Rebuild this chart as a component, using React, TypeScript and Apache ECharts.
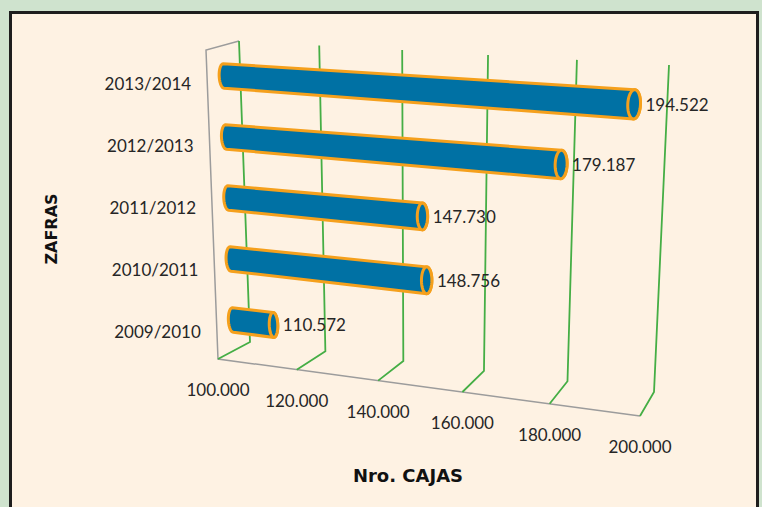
import React, { useEffect, useRef } from "react";
import * as echarts from "echarts";

// ---- data ----
const categories = ["2009/2010", "2010/2011", "2011/2012", "2012/2013", "2013/2014"];
const cajas = [110572, 148756, 147730, 179187, 194522];
const xTicks = [100000, 120000, 140000, 160000, 180000, 200000];
const xMin = 100000;
const xMax = 200000;
const xStep = 20000;
const yTitle = "ZAFRAS";
const xTitle = "Nro. CAJAS";

// ---- layout of the perspective box (pixels) ----
type P = [number, number];
const BACK = { b0: [250, 342] as P, b1: [654, 392] as P, t0: [239, 41] as P, t1: [669, 65] as P };
const FRONT = { b0: [218, 359] as P, b1: [640, 416] as P, t0: [206, 50] as P, t1: [654, 81] as P };
const PERSP = 1.09;

const lerp = (a: P, b: P, t: number): P => [a[0] + (b[0] - a[0]) * t, a[1] + (b[1] - a[1]) * t];
const face = (f: typeof BACK, u: number, v: number): P => lerp(lerp(f.b0, f.b1, u), lerp(f.t0, f.t1, u), v);
const project = (u: number, v: number, w: number): P => {
  const g = u / (PERSP - (PERSP - 1) * u);
  return lerp(face(FRONT, g, v), face(BACK, g, v), w);
};

const fmt = (v: number) => String(Math.round(v)).replace(/\B(?=(\d{3})+(?!\d))/g, ".");

const ell = (c: P, a: P, rx: number, from: number, to: number, n = 24): P[] => {
  const pts: P[] = [];
  for (let k = 0; k <= n; k++) {
    const t = from + ((to - from) * k) / n;
    pts.push([c[0] + a[0] * Math.cos(t) + rx * Math.sin(t), c[1] + a[1] * Math.cos(t)]);
  }
  return pts;
};

const NUM_FONT = "17px Lato";
const TXT = "#262626";
const BLUE = "#0071A4";
const ORANGE = "#F5A01C";
const GREEN = "#45AE45";

export default function App() {
  const ref = useRef<HTMLDivElement>(null);
  useEffect(() => {
    document.body.style.margin = "0";
    const chart = echarts.init(ref.current!, null, { renderer: "svg" });
    const option: any = {
      animation: false,
      backgroundColor: "#CFE3CE",
      grid: { left: 240, top: 41, width: 420, height: 320, show: false },
      xAxis: { type: "value", min: xMin, max: xMax, interval: xStep, show: false },
      yAxis: { type: "category", data: categories, show: false },
      graphic: [
        {
          type: "rect",
          z: -10,
          shape: { x: 10.5, y: 12.5, width: 747, height: 520 },
          style: { fill: "#FEF2E3", stroke: "#1E1E1E", lineWidth: 3 },
        },
        {
          type: "text",
          x: 51,
          y: 229,
          rotation: Math.PI / 2,
          style: { text: yTitle, font: "bold 16px 'DejaVu Sans'", fill: "#111", align: "center", verticalAlign: "middle" },
        },
        {
          type: "text",
          x: 408,
          y: 475,
          style: { text: xTitle, font: "bold 18px 'DejaVu Sans'", fill: "#111", align: "center", verticalAlign: "middle" },
        },
      ],
      series: [
        {
          type: "custom",
          name: "frame",
          coordinateSystem: "cartesian2d",
          data: [[xMin, xMax]],
          encode: { x: [0, 1] },
          silent: true,
          renderItem: (params: any, api: any) => {
            const cs = params.coordSys;
            const a = api.coord([api.value(0), 0]);
            const b = api.coord([api.value(1), 0]);
            const u0 = (a[0] - cs.x) / cs.width;
            const u1 = (b[0] - cs.x) / cs.width;
            return {
              type: "polyline",
              shape: { points: [project(u0, 1, 1), project(u0, 1, 0), project(u0, 0, 0), project(u1, 0, 0)] },
              style: { stroke: "#9C9C9C", lineWidth: 1.5, fill: "none" },
            };
          },
        },
        {
          type: "custom",
          name: "grid",
          coordinateSystem: "cartesian2d",
          data: xTicks.map((t) => [t, 0]),
          encode: { x: 0, y: 1 },
          silent: true,
          renderItem: (params: any, api: any) => {
            const cs = params.coordSys;
            const val = api.value(0);
            const p = api.coord([val, 0]);
            const u = (p[0] - cs.x) / cs.width;
            const f = project(u, 0, 0);
            return {
              type: "group",
              children: [
                {
                  type: "polyline",
                  shape: { points: [f, project(u, 0, 1), project(u, 1, 1)] },
                  style: { stroke: GREEN, lineWidth: 1.8, fill: "none" },
                },
                {
                  type: "text",
                  x: f[0],
                  y: f[1] + 30.5,
                  style: { text: fmt(val), font: NUM_FONT, fill: TXT, align: "center", verticalAlign: "middle" },
                },
              ],
            };
          },
        },
        {
          type: "custom",
          name: "Nro. CAJAS",
          coordinateSystem: "cartesian2d",
          data: cajas.map((v, i) => [v, i]),
          encode: { x: 0, y: 1 },
          renderItem: (params: any, api: any) => {
            const cs = params.coordSys;
            const val = api.value(0);
            const idx = api.value(1);
            const pEnd = api.coord([val, idx]);
            const pStart = api.coord([xMin, idx]);
            const bandH = api.size([0, 1])[1];
            const u0 = (pStart[0] - cs.x) / cs.width;
            const u1 = (pEnd[0] - cs.x) / cs.width;
            const v = 1 - (pEnd[1] - cs.y) / cs.height;
            const rv = (bandH / cs.height) * 0.2;
            const rvEnd = rv * (1 + 0.12 * u1);
            const TL = project(u0, v + rv, 0.5);
            const BL = project(u0, v - rv, 0.5);
            const TR = project(u1, v + rvEnd, 0.5);
            const BR = project(u1, v - rvEnd, 0.5);
            const CL: P = [(TL[0] + BL[0]) / 2, (TL[1] + BL[1]) / 2];
            const CR: P = [(TR[0] + BR[0]) / 2, (TR[1] + BR[1]) / 2];
            const aL: P = [TL[0] - CL[0], TL[1] - CL[1]];
            const aR: P = [TR[0] - CR[0], TR[1] - CR[1]];
            const rxL = 4.5;
            const rxR = 4 + 2.5 * u1;
            const body = [...ell(CR, aR, rxR, 0, Math.PI), ...ell(CL, aL, rxL, Math.PI, 2 * Math.PI)];
            const end = ell(CR, aR, rxR, 0, 2 * Math.PI, 40);
            const lab = project(0, v, 0);
            return {
              type: "group",
              children: [
                {
                  type: "polygon",
                  shape: { points: body },
                  style: { fill: BLUE, stroke: ORANGE, lineWidth: 3, lineJoin: "round" },
                },
                {
                  type: "polygon",
                  shape: { points: end },
                  style: { fill: BLUE, stroke: ORANGE, lineWidth: 3 },
                },
                {
                  type: "text",
                  x: CR[0] + rxR + 5,
                  y: CR[1],
                  style: { text: fmt(val), font: NUM_FONT, fill: TXT, align: "left", verticalAlign: "middle" },
                },
                {
                  type: "text",
                  x: lab[0] - 16,
                  y: lab[1] + 3,
                  style: { text: categories[idx], font: NUM_FONT, fill: TXT, align: "right", verticalAlign: "middle" },
                },
              ],
            };
          },
        },
      ],
    };
    chart.setOption(option);
    return () => chart.dispose();
  }, []);
  return <div ref={ref} style={{ width: 762, height: 507 }} />;
}
